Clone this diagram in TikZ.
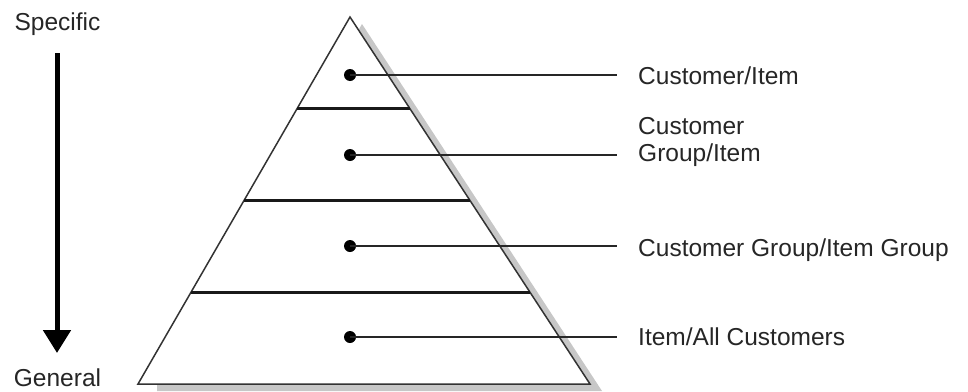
\documentclass[tikz,border=0pt]{standalone}
\usepackage{fontspec}
\setmainfont{Liberation Sans}
\usetikzlibrary{arrows.meta,calc}
\begin{document}
\begin{tikzpicture}[x=1pt,y=-1pt,
  lbl/.style={inner sep=0pt,font=\fontsize{24.5}{27}\selectfont,text=black!85},
  dot/.style={circle,fill=black,inner sep=0pt,minimum size=12pt},
  leader/.style={line width=1.4pt,draw=black!85},
  divider/.style={line width=3pt,draw=black!90},
  outline/.style={line width=1.5pt,draw=black!80,line join=miter},
  bigarrow/.style={line width=5pt,draw=black,-{Triangle[length=23pt,width=27pt]}}]
\useasboundingbox (0,0) rectangle (968,391);
% shadow
\fill[black!22] (362,24) -- (602,391) -- (157,391) -- (157,380) -- cycle;
% pyramid
\coordinate (apex) at (350,17);
\coordinate (bl) at (138,384);
\coordinate (br) at (590,384);
\draw[outline,fill=white] (apex) -- (br) -- (bl) -- cycle;
\foreach \t/\n in {0.25/1,0.5/2,0.75/3}{
  \coordinate (l\n) at ($(apex)!\t!(bl)$);
  \coordinate (r\n) at ($(apex)!\t!(br)$);
  \draw[divider] (l\n) -- (r\n);
}
% dots
\node[dot] (d1) at (350,75) {};
\node[dot] (d2) at (350,155) {};
\node[dot] (d3) at (350,246) {};
\node[dot] (d4) at (350,337) {};
% leader ends
\coordinate (e1) at (617,75);
\coordinate (e2) at (617,155);
\coordinate (e3) at (617,246);
\coordinate (e4) at (617,337);
\foreach \i in {1,2,3,4}{\draw[leader] (d\i.center) -- (e\i);}
% labels
\node[lbl,anchor=base west] (t1) at (638,84) {Customer/Item};
\node[lbl,anchor=base west,align=left] (t2) at (638,161.5) {Customer\\Group/Item};
\node[lbl,anchor=base west] (t3) at (638,256) {Customer Group/Item Group};
\node[lbl,anchor=base west] (t4) at (638,345) {Item/All Customers};
% specific / general arrow
\node[lbl,anchor=base] (spec) at (57.5,30) {Specific};
\node[lbl,anchor=base] (gen) at (57.5,386.5) {General};
\coordinate (atop) at (57,53);
\coordinate (abot) at (57,353);
\draw[bigarrow] (atop) -- (abot);
\end{tikzpicture}
\end{document}
